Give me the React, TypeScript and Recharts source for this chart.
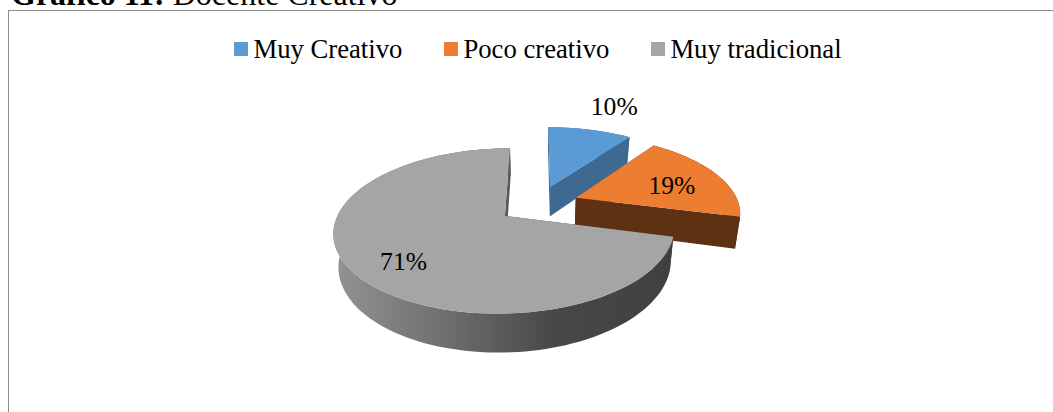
import React from "react";
import { PieChart, Pie, Legend } from "recharts";

const CATEGORIES = ["Muy Creativo", "Poco creativo", "Muy tradicional"];
const VALUES = [10, 19, 71];
const TOP_COLORS = ["#5B9BD5", "#ED7D31", "#A5A5A5"];
const WALL_COLORS = ["#3E6A92", "#5F3113", "url(#grayWall)"];
const LABEL_NUDGE = [
  [35, -39],
  [-4, 5],
  [2, 8],
];

const SERIF = '"Liberation Serif", "Times New Roman", serif';
const W = 1053;
const H = 412;
const CX = 538;
const CY = 176;
const R = 163;
const SQUASH = 0.464;
const PERSP = 0.177;
const EXPLODE = 0.25;
const DEPTH = 31;
const BOTTOM_SCALE = 0.975;

const rows = CATEGORIES.map((name, i) => ({
  name,
  value: VALUES[i],
  fill: TOP_COLORS[i],
  wall: WALL_COLORS[i],
}));

const rad = (d: number) => (d * Math.PI) / 180;

function project(cx: number, cy: number, r: number, X: number, Y: number, low = false) {
  const w = 1 + PERSP * Y;
  const s = low ? BOTTOM_SCALE : 1;
  const x = cx + (s * r * X) / w;
  const y = cy - (r * SQUASH * Y) / w + (low ? DEPTH / w : 0);
  return [x, y];
}

const toPath = (pts: number[][]) =>
  "M" + pts.map((p) => `${p[0].toFixed(1)},${p[1].toFixed(1)}`).join("L") + "Z";

function Slice3D(props: any) {
  const { cx, cy, outerRadius, startAngle, endAngle, midAngle, fill } = props;
  const wall = props.wall ?? props.payload?.wall;
  const ox = EXPLODE * Math.cos(rad(midAngle));
  const oy = EXPLODE * Math.sin(rad(midAngle));
  const steps = Math.max(4, Math.ceil(Math.abs(endAngle - startAngle) / 2));
  const rim: number[][] = [];
  for (let i = 0; i <= steps; i++) {
    const a = startAngle + ((endAngle - startAngle) * i) / steps;
    rim.push([ox + Math.cos(rad(a)), oy + Math.sin(rad(a))]);
  }
  const up = (p: number[]) => project(cx, cy, outerRadius, p[0], p[1]);
  const lo = (p: number[]) => project(cx, cy, outerRadius, p[0], p[1], true);
  const apex = [ox, oy];
  const first = rim[0];
  const last = rim[rim.length - 1];
  const rimWall = [...rim.map(up), ...rim.slice().reverse().map(lo)];
  const edgeA = [up(apex), up(first), lo(first), lo(apex)];
  const edgeB = [up(apex), up(last), lo(last), lo(apex)];
  const top = [up(apex), ...rim.map(up)];
  return (
    <g>
      <defs>
        <linearGradient id="grayWall" gradientUnits="userSpaceOnUse" x1={333} x2={672} y1={0} y2={0}>
          <stop offset="0" stopColor="#949494" />
          <stop offset="0.35" stopColor="#6c6c6c" />
          <stop offset="0.65" stopColor="#484848" />
          <stop offset="1" stopColor="#404040" />
        </linearGradient>
      </defs>
      <path d={toPath(edgeA)} fill={wall} />
      <path d={toPath(edgeB)} fill={wall} />
      <path d={toPath(rimWall)} fill={wall} />
      <path d={toPath(top)} fill={fill} />
    </g>
  );
}

function SliceLabel(props: any) {
  const { cx, cy, outerRadius, midAngle, value, index } = props;
  const c = Math.cos(rad(midAngle));
  const s = Math.sin(rad(midAngle));
  const [x, y] = project(cx, cy, outerRadius, (EXPLODE + 0.7) * c, (EXPLODE + 0.7) * s);
  const n = LABEL_NUDGE[index];
  return (
    <text
      x={x + n[0]}
      y={y + n[1]}
      textAnchor="middle"
      dominantBaseline="central"
      fontFamily={SERIF}
      fontSize={25.6}
      fill="#000"
    >
      {value}%
    </text>
  );
}

function LegendRow({ payload }: any) {
  return (
    <div style={{ display: "flex", justifyContent: "center", fontFamily: SERIF, fontSize: 26.7, lineHeight: "28px", color: "#000" }}>
      {(payload ?? []).map((e: any, i: number) => (
        <div key={e.value} style={{ display: "flex", alignItems: "center", marginRight: i < 2 ? 42 : 0 }}>
          <span style={{ width: 14, height: 14, background: e.color, marginRight: 5, display: "inline-block" }} />
          <span>{e.value}</span>
        </div>
      ))}
    </div>
  );
}

export default function App() {
  return (
    <div style={{ position: "absolute", left: 0, top: 0, width: W, height: H, overflow: "hidden", background: "#fff" }}>
      <div
        style={{
          position: "absolute",
          left: 11,
          top: -18,
          fontFamily: SERIF,
          fontSize: 32,
          lineHeight: "24px",
          color: "#000",
          whiteSpace: "nowrap",
        }}
      >
        <b>Gráfico 11:</b> Docente Creativo
      </div>
      <div
        style={{
          position: "absolute",
          left: 8,
          top: 10,
          width: W,
          height: H,
          border: "1px solid #8c8c8c",
          boxSizing: "border-box",
        }}
      />
      <div style={{ position: "absolute", left: 0, top: 0 }}>
        <PieChart width={W} height={H} margin={{ top: 0, right: 0, bottom: 0, left: 0 }}>
          <Legend
            verticalAlign="top"
            align="left"
            itemSorter={null}
            content={<LegendRow />}
            wrapperStyle={{ left: 4, top: 35, width: 1068 }}
          />
          <Pie
            data={rows}
            dataKey="value"
            nameKey="name"
            cx={CX}
            cy={CY}
            outerRadius={R}
            startAngle={90}
            endAngle={-270}
            stroke="none"
            isAnimationActive={false}
            labelLine={false}
            label={SliceLabel}
            shape={Slice3D}
          />
        </PieChart>
      </div>
    </div>
  );
}
